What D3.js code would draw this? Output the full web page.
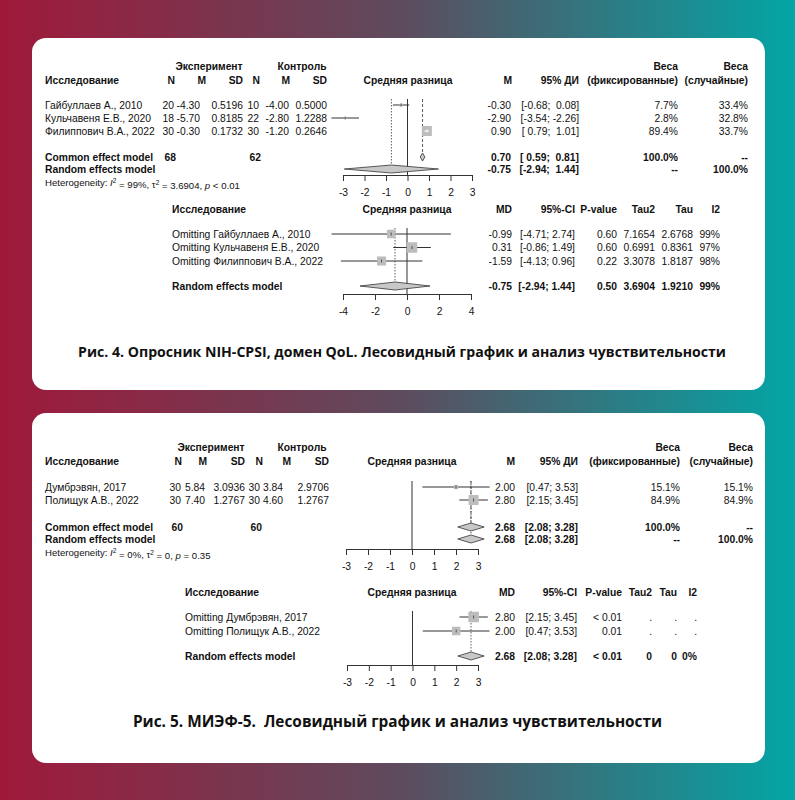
<!DOCTYPE html>
<html>
<head>
<meta charset="utf-8">
<script src="https://cdn.jsdelivr.net/npm/d3@7"></script>
<style>
body{margin:0;}
svg text{font-family:"Liberation Sans",Arial,Helvetica,sans-serif;font-size:10.3px;fill:#111;}
svg text.b{font-weight:bold;}
svg text.het{font-size:9.6px;}
svg text.cap{font-family:"Open Sans",sans-serif;font-size:14.1px;font-weight:bold;}
svg text.cap2{font-family:"Open Sans",sans-serif;font-size:15.4px;font-weight:bold;}
</style>
</head>
<body>
<div id="chart"></div>
<script>
// ---- Рис. 4: NIH-CPSI, домен QoL ----
var studies4 = ["Гайбуллаев А., 2010", "Кульчавеня Е.В., 2020", "Филиппович В.А., 2022"];
var nExp4 = [20, 18, 30], mExp4 = [-4.30, -5.70, -0.30], sdExp4 = [0.5196, 0.8185, 0.1732];
var nCtl4 = [10, 22, 30], mCtl4 = [-4.00, -2.80, -1.20], sdCtl4 = [0.5000, 1.2288, 0.2646];
var md4 = [-0.30, -2.90, 0.90], lo4 = [-0.68, -3.54, 0.79], hi4 = [0.08, -2.26, 1.01];
var wFix4 = [7.7, 2.8, 89.4], wRan4 = [33.4, 32.8, 33.7];
var totals4 = [68, 62];
var common4 = [0.70, 0.59, 0.81], random4 = [-0.75, -2.94, 1.44];
var het4 = ["99%", "3.6904", "< 0.01"];
var ticks4 = [-3, -2, -1, 0, 1, 2, 3];
// leave-one-out
var looMd4 = [-0.99, 0.31, -1.59], looLo4 = [-4.71, -0.86, -4.13], looHi4 = [2.74, 1.49, 0.96];
var looP4 = ["0.60", "0.60", "0.22"], looTau2_4 = ["7.1654", "0.6991", "3.3078"];
var looTau4 = ["2.6768", "0.8361", "1.8187"], looI2_4 = ["99%", "97%", "98%"];
var looPooled4 = ["0.50", "3.6904", "1.9210", "99%"];
var looTicks4 = [-4, -2, 0, 2, 4];

// ---- Рис. 5: МИЭФ-5 ----
var studies5 = ["Думбрэвян, 2017", "Полищук А.В., 2022"];
var nExp5 = [30, 30], mExp5 = [5.84, 7.40], sdExp5 = [3.0936, 1.2767];
var nCtl5 = [30, 30], mCtl5 = [3.84, 4.60], sdCtl5 = [2.9706, 1.2767];
var md5 = [2.00, 2.80], lo5 = [0.47, 2.15], hi5 = [3.53, 3.45];
var wFix5 = [15.1, 84.9], wRan5 = [15.1, 84.9];
var totals5 = [60, 60];
var common5 = [2.68, 2.08, 3.28], random5 = [2.68, 2.08, 3.28];
var het5 = ["0%", "0", "= 0.35"];
var ticks5 = [-3, -2, -1, 0, 1, 2, 3];
var looMd5 = [2.80, 2.00], looLo5 = [2.15, 0.47], looHi5 = [3.45, 3.53];
var looP5 = ["< 0.01", "0.01"], looTau2_5 = [".", "."], looTau5 = [".", "."], looI2_5 = [".", "."];
var looPooled5 = ["< 0.01", "0", "0", "0%"];
var looTicks5 = [-3, -2, -1, 0, 1, 2, 3];

var caption4 = "Рис. 4. Опросник NIH-CPSI, домен QoL. Лесовидный график и анализ чувствительности";
var caption5 = "Рис. 5. МИЭФ-5.  Лесовидный график и анализ чувствительности";

var W = 795, H = 800;
var svg = d3.select("#chart").append("svg").attr("width", W).attr("height", H);

// background gradient + white cards
var grad = svg.append("defs").append("linearGradient").attr("id", "bg")
  .attr("x1", 0).attr("x2", 1).attr("y1", 0).attr("y2", 0);
grad.append("stop").attr("offset", "0").attr("stop-color", "#a0183a");
grad.append("stop").attr("offset", "0.5").attr("stop-color", "#5e4b5d");
grad.append("stop").attr("offset", "1").attr("stop-color", "#03a5a5");
svg.append("rect").attr("width", W).attr("height", H).attr("fill", "url(#bg)");
svg.append("rect").attr("x", 32).attr("y", 38).attr("width", 733).attr("height", 352).attr("rx", 14).attr("fill", "#fff");
svg.append("rect").attr("x", 32).attr("y", 413).attr("width", 733).attr("height", 350).attr("rx", 14).attr("fill", "#fff");

function txt(g, x, y, s, anchor, cls) {
  return g.append("text").attr("x", x).attr("y", y).attr("dy", "0.35em")
    .attr("text-anchor", anchor || "start").attr("class", cls || null)
    .style("white-space", "pre").text(s);
}
function pad(v, neg) { var s = v.toFixed(2); return (neg && v >= 0) ? " " + s : s; }
function ci(lo, hi, nl, nh) { return "[" + pad(lo, nl) + "; " + pad(hi, nh) + "]"; }
function pct(v) { return v.toFixed(1) + "%"; }

function diamond(g, x, est, y, h) {
  g.append("polygon")
    .attr("points", [[x(est[1]), y], [x(est[0]), y - h], [x(est[2]), y], [x(est[0]), y + h]].join(" "))
    .attr("fill", "#c8c8c8").attr("stroke", "#333").attr("stroke-width", 0.8);
}

function vline(g, xv, y1, y2, dash) {
  g.append("line").attr("x1", xv).attr("x2", xv).attr("y1", y1).attr("y2", y2)
    .attr("stroke", "#333").attr("stroke-width", dash ? 0.8 : 1)
    .attr("stroke-dasharray", dash || null);
}

function drawAxis(g, x, ticks, y) {
  var ax = g.append("g").attr("transform", "translate(0," + y + ")")
    .call(d3.axisBottom(x).tickValues(ticks).tickSizeOuter(0).tickSize(6).tickPadding(8)
      .tickFormat(function(d) { return String(d); }));
  ax.select(".domain").attr("stroke", "#333");
  ax.selectAll(".tick line").attr("stroke", "#333");
}

// study rows: CI line, gray square, estimate tick
function drawRows(g, x, ys, md, lo, hi, size) {
  md.forEach(function(m, i) {
    var s = size[i], y = ys[i], inside = (x(hi[i]) - x(lo[i])) < s;
    g.append("line").attr("x1", x(lo[i])).attr("x2", x(hi[i])).attr("y1", y).attr("y2", y)
      .attr("stroke", "#333").attr("stroke-width", 1);
    g.append("rect").attr("x", x(m) - s / 2).attr("y", y - s / 2).attr("width", s).attr("height", s)
      .attr("fill", "#bdbdbd");
    if (inside) {
      g.append("line").attr("x1", x(lo[i])).attr("x2", x(hi[i])).attr("y1", y).attr("y2", y)
        .attr("stroke", "#fff").attr("stroke-width", 1);
    }
    g.append("line").attr("x1", x(m)).attr("x2", x(m)).attr("y1", y - 1.5).attr("y2", y + 1.5)
      .attr("stroke", inside ? "#fff" : "#333").attr("stroke-width", 0.8);
  });
}

function drawMain(d, L) {
  var g = svg.append("g");
  var x = d3.scaleLinear().domain(d3.extent(d.ticks)).range(L.xRange);
  var ys = d.studies.map(function(s, i) { return L.rowTop + i * L.rowH; });
  var sq = d3.scaleSqrt().domain([0, d3.max(d.wFix)]).range([0, 10]);
  var negLo = d3.min(d.lo.concat([d.common[1], d.random[1]])) < 0;
  var negHi = d3.min(d.hi.concat([d.common[2], d.random[2]])) < 0;

  // headers
  txt(g, L.expX, L.h1, "Эксперимент", "middle", "b");
  txt(g, L.ctlX, L.h1, "Контроль", "middle", "b");
  txt(g, L.wfX, L.h1, "Веса", "end", "b");
  txt(g, L.wrX, L.h1, "Веса", "end", "b");
  txt(g, L.studyX, L.h2, "Исследование", "start", "b");
  ["N", "M", "SD", "N", "M", "SD"].forEach(function(h, i) { txt(g, L.colsHead[i], L.h2, h, "end", "b"); });
  txt(g, L.headMidX, L.h2, "Средняя разница", "middle", "b");
  txt(g, L.mdHeadX, L.h2, "M", "end", "b");
  txt(g, L.ciX, L.h2, "95% ДИ", "end", "b");
  txt(g, L.wfX, L.h2, "(фиксированные)", "end", "b");
  txt(g, L.wrX, L.h2, "(случайные)", "end", "b");

  // study table
  d.studies.forEach(function(s, i) {
    var y = ys[i];
    txt(g, L.studyX, y, s);
    var vals = [String(d.nExp[i]), d.mExp[i].toFixed(2), d.sdExp[i].toFixed(4),
                String(d.nCtl[i]), d.mCtl[i].toFixed(2), d.sdCtl[i].toFixed(4)];
    vals.forEach(function(v, j) { txt(g, L.colsVal[j], y, v, "end"); });
    txt(g, L.mdX, y, d.md[i].toFixed(2), "end");
    txt(g, L.ciX, y, ci(d.lo[i], d.hi[i], negLo, negHi), "end");
    txt(g, L.wfX, y, pct(d.wFix[i]), "end");
    txt(g, L.wrX, y, pct(d.wRan[i]), "end");
  });

  // pooled rows
  txt(g, L.studyX, L.commonY, "Common effect model", "start", "b");
  txt(g, L.colsVal[0] + 2, L.commonY, String(d.totals[0]), "end", "b");
  txt(g, L.colsVal[3] + 2, L.commonY, String(d.totals[1]), "end", "b");
  txt(g, L.mdX, L.commonY, d.common[0].toFixed(2), "end", "b");
  txt(g, L.ciX, L.commonY, ci(d.common[1], d.common[2], negLo, negHi), "end", "b");
  txt(g, L.wfX, L.commonY, "100.0%", "end", "b");
  txt(g, L.wrX, L.commonY, "--", "end", "b");
  txt(g, L.studyX, L.randomY, "Random effects model", "start", "b");
  txt(g, L.mdX, L.randomY, d.random[0].toFixed(2), "end", "b");
  txt(g, L.ciX, L.randomY, ci(d.random[1], d.random[2], negLo, negHi), "end", "b");
  txt(g, L.wfX, L.randomY, "--", "end", "b");
  txt(g, L.wrX, L.randomY, "100.0%", "end", "b");

  // heterogeneity line
  var ht = g.append("text").attr("x", L.studyX).attr("y", L.hetY).attr("dy", "0.35em").attr("class", "het");
  ht.append("tspan").text("Heterogeneity: ");
  ht.append("tspan").style("font-style", "italic").text("I");
  ht.append("tspan").attr("dy", "-0.45em").attr("font-size", "6.5px").text("2");
  ht.append("tspan").attr("dy", "0.45em").text(" = " + d.het[0] + ", τ");
  ht.append("tspan").attr("dy", "-0.45em").attr("font-size", "6.5px").text("2");
  ht.append("tspan").attr("dy", "0.45em").text(" = " + d.het[1] + ", ");
  ht.append("tspan").style("font-style", "italic").text("p");
  ht.append("tspan").text(" " + d.het[2]);

  // forest
  var top = L.rowTop - 6;
  vline(g, x(0), top, L.axisY);
  vline(g, x(d.random[0]), top, L.randomY - 4, "1.5,1.5");
  vline(g, x(d.common[0]), top, L.commonY - 4, "3,2");
  drawRows(g, x, ys, d.md, d.lo, d.hi, d.wFix.map(function(w) { return Math.max(2, sq(w)); }));
  diamond(g, x, d.common, L.commonY, 4);
  diamond(g, x, d.random, L.randomY, 4);
  drawAxis(g, x, d.ticks, L.axisY);
}

function drawLoo(d, L) {
  var g = svg.append("g");
  var x = d3.scaleLinear().domain(d3.extent(d.ticks)).range(L.xRange);
  var ys = d.studies.map(function(s, i) { return L.rowTop + i * L.rowH; });
  // square size from precision of each estimate
  var prec = d.md.map(function(m, i) { return Math.sqrt(3.92 / (d.hi[i] - d.lo[i])); });
  var sq = d3.scaleLinear().domain(d3.extent(prec)).range([8.5, 10.5]);
  var negLo = d3.min(d.lo.concat([d.random[1]])) < 0;
  var negHi = d3.min(d.hi.concat([d.random[2]])) < 0;

  txt(g, L.studyX, L.headY, "Исследование", "start", "b");
  txt(g, L.headMidX, L.headY, "Средняя разница", "middle", "b");
  txt(g, L.mdX, L.headY, "MD", "end", "b");
  txt(g, L.ciX, L.headY, "95%-CI", "end", "b");
  txt(g, L.pX, L.headY, "P-value", "end", "b");
  txt(g, L.t2X, L.headY, "Tau2", "end", "b");
  txt(g, L.tX, L.headY, "Tau", "end", "b");
  txt(g, L.i2X, L.headY, "I2", "end", "b");

  d.studies.forEach(function(s, i) {
    var y = ys[i];
    txt(g, L.studyX, y, "Omitting " + s);
    txt(g, L.mdX, y, d.md[i].toFixed(2), "end");
    txt(g, L.ciX, y, ci(d.lo[i], d.hi[i], negLo, negHi), "end");
    txt(g, L.pX, y, d.p[i], "end");
    txt(g, L.t2X, y, d.tau2[i], "end");
    txt(g, L.tX, y, d.tau[i], "end");
    txt(g, L.i2X, y, d.i2[i], "end");
  });
  txt(g, L.studyX, L.randomY, "Random effects model", "start", "b");
  txt(g, L.mdX, L.randomY, d.random[0].toFixed(2), "end", "b");
  txt(g, L.ciX, L.randomY, ci(d.random[1], d.random[2], negLo, negHi), "end", "b");
  [L.pX, L.t2X, L.tX, L.i2X].forEach(function(cx, j) { txt(g, cx, L.randomY, d.pooled[j], "end", "b"); });

  var top = L.rowTop - 6;
  vline(g, x(0), top, L.axisY);
  vline(g, x(d.random[0]), top, L.randomY - 4, "1.5,1.5");
  drawRows(g, x, ys, d.md, d.lo, d.hi, prec.map(sq));
  diamond(g, x, d.random, L.randomY, 4);
  drawAxis(g, x, d.ticks, L.axisY);
}

drawMain({studies: studies4, nExp: nExp4, mExp: mExp4, sdExp: sdExp4, nCtl: nCtl4, mCtl: mCtl4, sdCtl: sdCtl4,
          md: md4, lo: lo4, hi: hi4, wFix: wFix4, wRan: wRan4, totals: totals4,
          common: common4, random: random4, het: het4, ticks: ticks4},
  {studyX: 45, h1: 66, h2: 80, rowTop: 105, rowH: 13, commonY: 157, randomY: 169, hetY: 183, axisY: 175,
   colsVal: [174, 200, 243, 259, 289, 327], colsHead: [175, 206, 243, 260, 290, 327], expX: 209, ctlX: 302,
   xRange: [343, 472], headMidX: 408, mdX: 511, mdHeadX: 512, ciX: 579, wfX: 678, wrX: 748});

drawLoo({studies: studies4, md: looMd4, lo: looLo4, hi: looHi4, p: looP4, tau2: looTau2_4, tau: looTau4, i2: looI2_4,
         random: random4, pooled: looPooled4, ticks: looTicks4},
  {studyX: 172, headY: 209, rowTop: 234, rowH: 13.5, randomY: 286, axisY: 294, xRange: [343, 471],
   headMidX: 407, mdX: 512, ciX: 575, pX: 617, t2X: 655, tX: 693, i2X: 720});

drawMain({studies: studies5, nExp: nExp5, mExp: mExp5, sdExp: sdExp5, nCtl: nCtl5, mCtl: mCtl5, sdCtl: sdCtl5,
          md: md5, lo: lo5, hi: hi5, wFix: wFix5, wRan: wRan5, totals: totals5,
          common: common5, random: random5, het: het5, ticks: ticks5},
  {studyX: 45, h1: 447, h2: 461, rowTop: 487, rowH: 13, commonY: 527, randomY: 539, hetY: 553, axisY: 549,
   colsVal: [181, 205, 245, 260, 283, 329], colsHead: [182, 207, 245, 263, 291, 329], expX: 211, ctlX: 302,
   xRange: [346, 478], headMidX: 412, mdX: 515, mdHeadX: 515, ciX: 578, wfX: 680, wrX: 753});

drawLoo({studies: studies5, md: looMd5, lo: looLo5, hi: looHi5, p: looP5, tau2: looTau2_5, tau: looTau5, i2: looI2_5,
         random: random5, pooled: looPooled5, ticks: looTicks5},
  {studyX: 185, headY: 592, rowTop: 617, rowH: 14, randomY: 656, axisY: 665, xRange: [347, 478],
   headMidX: 412, mdX: 515, ciX: 577, pX: 622, t2X: 652, tX: 677, i2X: 697});

// captions
txt(svg, 402, 352, caption4, "middle", "cap");
txt(svg, 397.5, 722, caption5, "middle", "cap2");
</script>
</body>
</html>
